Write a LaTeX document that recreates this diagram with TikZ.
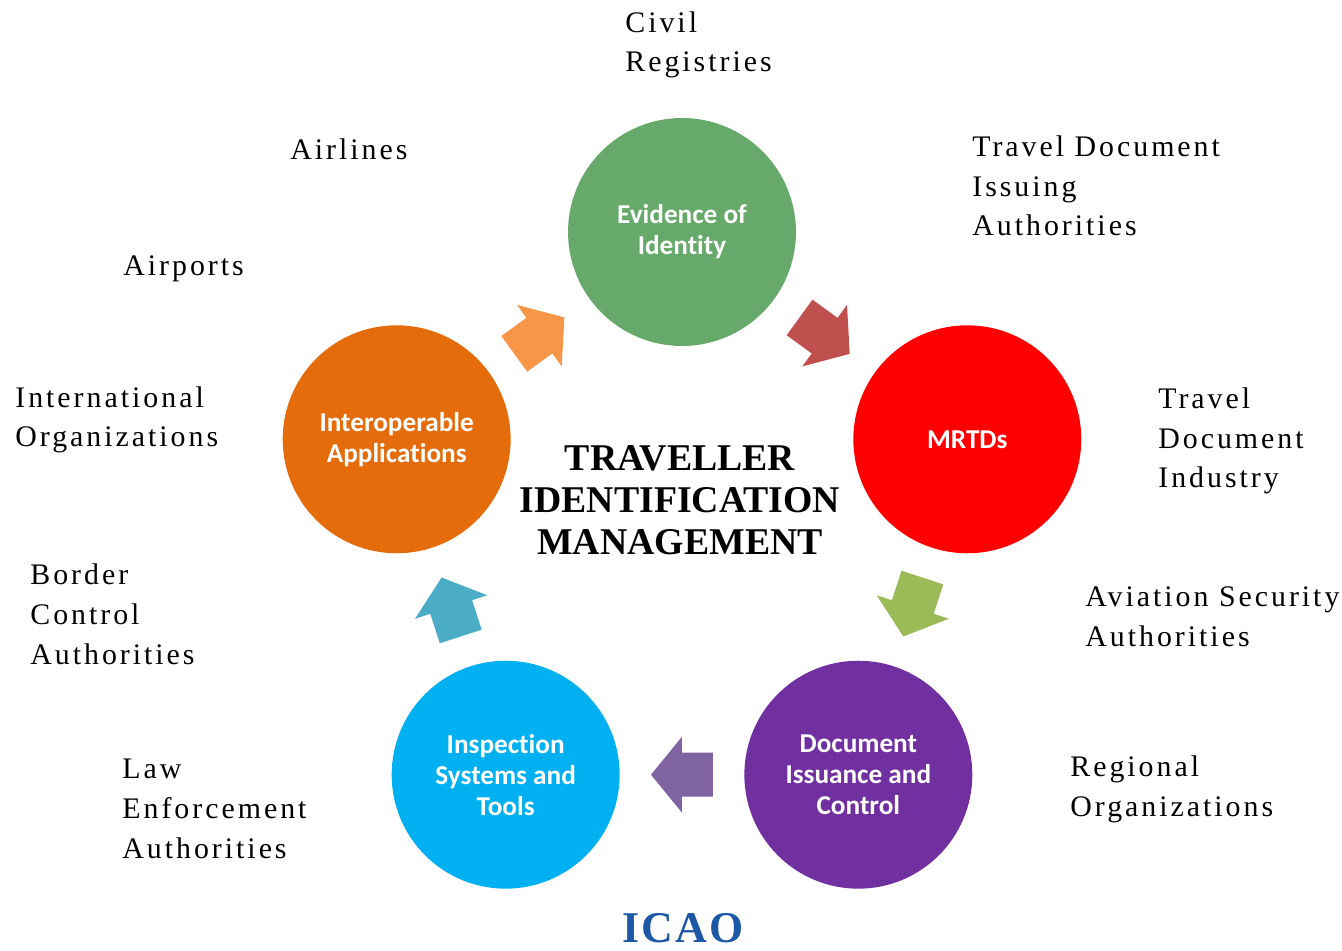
\documentclass[tikz,border=0pt]{standalone}
\usepackage{fontspec}
\setmainfont{Liberation Serif}
\newfontfamily\ballfont[Ligatures=NoCommon]{Carlito}
\newfontfamily\sidefont[LetterSpace=10]{Liberation Serif}
\newfontfamily\icaofont[LetterSpace=5]{Liberation Serif}
\usepackage{tikz}
\usetikzlibrary{calc}

\definecolor{evidgreen}{RGB}{102,169,106}
\definecolor{mrtdred}{RGB}{255,0,0}
\definecolor{docpurple}{RGB}{112,48,160}
\definecolor{inspcyan}{RGB}{0,176,240}
\definecolor{interorange}{RGB}{228,108,10}
\definecolor{arrorange}{RGB}{247,150,70}
\definecolor{arrred}{RGB}{192,80,77}
\definecolor{arrgreen}{RGB}{155,187,89}
\definecolor{arrpurple}{RGB}{128,100,162}
\definecolor{arrblue}{RGB}{75,172,198}
\definecolor{icaoblue}{RGB}{28,88,166}

\tikzset{pics/blockarrow/.style={code={%
  \fill[#1] (-31,-22) -- (0,-22) -- (0,-38) -- (31,0) -- (0,38) -- (0,22) -- (-31,22) -- cycle;}}}
\newcommand\flowarrow[3]{%
  \path let \p1=($(#2)-(#1)$), \n1={atan2(\y1,\x1)} in ($(#1)!0.5!(#2)$) pic[rotate=\n1] {blockarrow=#3};}

\begin{document}
\begin{tikzpicture}[auto,x=0.02cm,y=0.02cm]
  \tikzstyle{ball} = [circle, minimum size=4.56cm, inner sep=0pt, align=center, text=white, font=\ballfont\bfseries\fontsize{15.5}{17.6}\selectfont]
  \tikzstyle{side} = [anchor=base west, inner sep=0pt, align=left, font=\sidefont\fontsize{17}{22.5}\selectfont]
  \useasboundingbox (-682,532) rectangle (660,-418);

  % the five stages
  \node[ball, fill=evidgreen] (evid) at (90:300) {Evidence of\\Identity};
  \node[ball, fill=mrtdred] (mrtd) at (18:300) {MRTDs};
  \node[ball, fill=docpurple] (doc) at (-54:300) {Document\\Issuance and\\Control};
  \node[ball, fill=inspcyan] (insp) at (-126:300) {Inspection\\Systems and\\Tools};
  \node[ball, fill=interorange] (inter) at (162:300) {Interoperable\\Applications};

  \flowarrow{inter}{evid}{arrorange}
  \flowarrow{evid}{mrtd}{arrred}
  \flowarrow{mrtd}{doc}{arrgreen}
  \flowarrow{doc}{insp}{arrpurple}
  \flowarrow{insp}{inter}{arrblue}

  \node[inner sep=0pt, align=center, font=\bfseries\fontsize{21.5}{23.9}\selectfont] (title) at (-2,32) {TRAVELLER\\IDENTIFICATION\\MANAGEMENT};

  % stakeholders (placed at the baseline of their last line)
  \node[side] (civil) at (-57,460) {Civil\\Registries};
  \node[side] (airlines) at (-392,372) {Airlines};
  \node[side] (issuing) at (290,296) {Travel Document\\Issuing\\Authorities};
  \node[side] (airports) at (-559,256) {Airports};
  \node[side] (intorg) at (-667,85) {International\\Organizations};
  \node[side] (industry) at (476,44) {Travel\\Document\\Industry};
  \node[side] (border) at (-652,-132) {Border\\Control\\Authorities};
  \node[side] (aviation) at (403,-114) {Aviation Security\\Authorities};
  \node[side] (law) at (-560,-326) {Law\\Enforcement\\Authorities};
  \node[side] (regional) at (388,-284) {Regional\\Organizations};

  \node[anchor=base, inner sep=0pt, text=icaoblue, font=\icaofont\bfseries\fontsize{25}{28}\selectfont] (icao) at (1,-410) {ICAO};
\end{tikzpicture}
\end{document}
